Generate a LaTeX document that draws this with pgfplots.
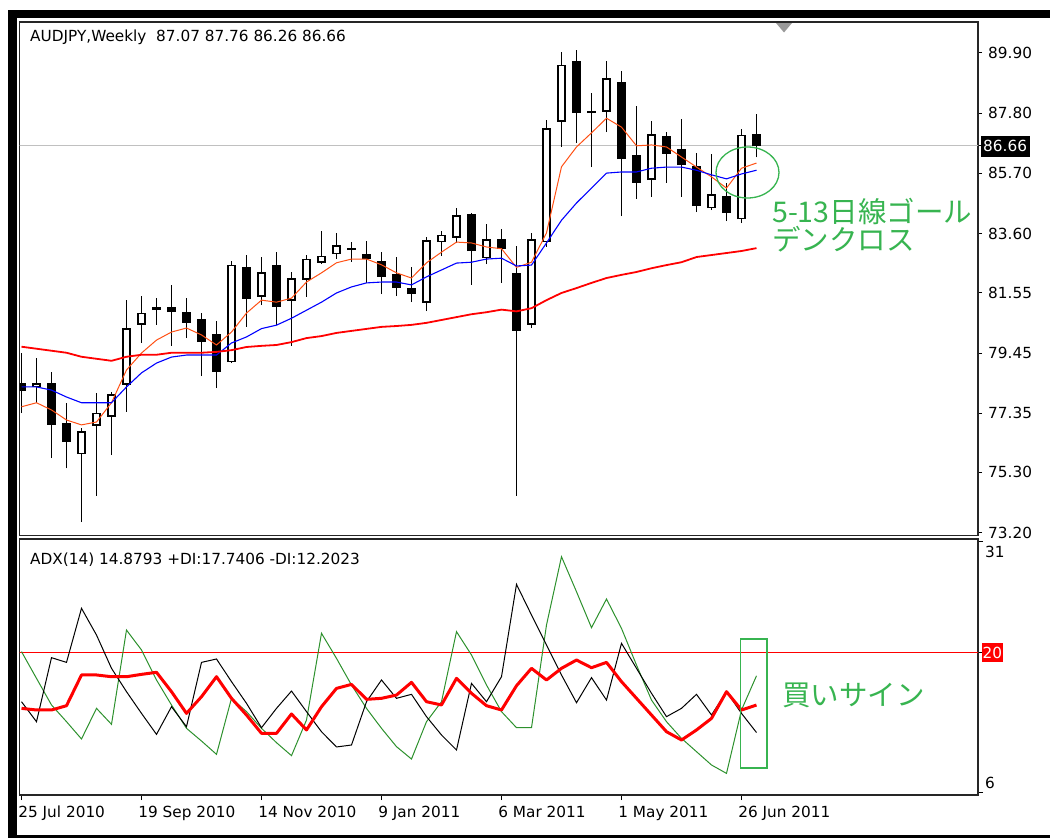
\documentclass[border=0pt]{standalone}
\usepackage{pgfplots}
\pgfplotsset{compat=1.18}
\usepackage{pgfplotstable}
\usepackage{fontspec}
\setmainfont{DejaVu Sans}
\newfontfamily\cjk{Noto Sans CJK JP}
\newcommand{\lab}{\fontsize{15.3}{18}\selectfont}
\definecolor{maorange}{RGB}{255,80,20}
\definecolor{pdicol}{RGB}{45,145,45}
\definecolor{anngreen}{RGB}{55,180,80}
\definecolor{pricegray}{RGB}{192,192,192}

\pgfplotstableread{
i o h l c
0 78.41 79.45 77.36 78.13
1 78.27 79.28 77.71 78.41
2 78.41 78.79 75.79 76.95
3 77.02 77.71 75.44 76.35
4 75.93 76.84 73.57 76.74
5 76.91 78.06 74.48 77.37
6 77.23 78.09 75.90 78.02
7 78.34 81.29 77.40 80.32
8 80.43 81.43 79.80 80.85
9 81.05 81.36 80.43 80.94
10 81.05 81.82 79.70 80.87
11 80.87 81.36 79.97 80.50
12 80.64 80.85 78.65 79.83
13 80.11 80.57 78.23 78.79
14 79.13 82.66 79.10 82.52
15 82.45 82.86 80.36 81.33
16 81.40 82.80 81.12 82.27
17 82.52 82.96 80.43 81.05
18 81.26 82.27 79.70 82.06
19 81.99 82.86 81.40 82.73
20 82.59 83.70 82.55 82.83
21 82.89 83.63 82.73 83.21
22 83.03 83.31 82.62 83.08
23 82.89 83.35 81.89 82.73
24 82.66 82.96 81.50 82.10
25 82.20 82.80 81.43 81.71
26 81.71 82.45 81.22 81.50
27 81.19 83.49 80.91 83.38
28 83.31 83.70 82.82 83.56
29 83.45 84.49 83.28 84.25
30 84.28 84.32 81.82 83.00
31 82.75 83.94 82.54 83.42
32 83.42 83.77 81.89 83.07
33 82.24 83.17 74.48 80.22
34 80.43 83.63 80.32 83.42
35 83.31 87.56 83.14 87.28
36 87.49 89.93 86.62 89.48
37 89.61 89.99 86.76 87.80
38 87.84 88.50 85.92 87.80
39 87.84 89.61 87.14 89.01
40 88.87 89.26 84.21 86.20
41 86.34 88.04 84.81 85.37
42 85.47 87.52 84.88 87.07
43 87.00 87.14 85.37 86.38
44 86.55 87.59 84.88 85.99
45 85.95 86.41 84.35 84.56
46 84.49 86.38 84.42 84.98
47 84.91 85.37 84.04 84.32
48 84.11 87.25 83.97 87.05
49 87.07 87.76 86.26 86.66
}\candles

\pgfplotstableread{
i or bl rd
0 77.58 78.27 79.67
1 77.72 78.27 79.60
2 77.47 78.16 79.53
3 77.12 77.92 79.46
4 76.95 77.72 79.32
5 77.05 77.72 79.25
6 77.72 77.72 79.18
7 78.86 78.27 79.32
8 79.45 78.76 79.39
9 79.90 79.10 79.39
10 80.18 79.31 79.46
11 80.32 79.38 79.46
12 80.08 79.38 79.46
13 79.73 79.38 79.49
14 80.18 79.80 79.55
15 80.84 80.01 79.66
16 81.29 80.30 79.70
17 81.22 80.42 79.73
18 81.36 80.66 79.83
19 81.92 80.94 79.97
20 82.24 81.22 80.04
21 82.59 81.54 80.15
22 82.72 81.75 80.22
23 82.72 81.89 80.29
24 82.52 81.92 80.36
25 82.24 81.92 80.39
26 82.06 81.82 80.43
27 82.59 82.10 80.50
28 82.96 82.34 80.60
29 83.31 82.58 80.70
30 83.28 82.61 80.80
31 83.14 82.72 80.87
32 83.08 82.75 80.96
33 82.43 82.48 80.90
34 82.61 82.51 81.01
35 83.63 83.28 81.29
36 85.93 84.07 81.54
37 86.62 84.67 81.71
38 87.11 85.19 81.89
39 87.62 85.71 82.06
40 87.31 85.75 82.17
41 86.66 85.75 82.27
42 86.69 85.88 82.40
43 86.62 85.92 82.51
44 86.27 85.92 82.61
45 85.92 85.81 82.79
46 85.58 85.65 82.86
47 85.19 85.51 82.93
48 85.88 85.68 83.00
49 86.06 85.81 83.10
}\mas

\pgfplotstableread{
i adx pdi mdi
0 14.56 20.10 15.21
1 14.40 17.49 13.26
2 14.40 14.89 19.51
3 14.82 13.26 19.05
4 17.82 11.57 24.33
5 17.82 14.56 21.72
6 17.65 13.00 18.47
7 17.65 22.21 16.19
8 17.88 20.26 14.07
9 18.08 17.33 12.02
10 16.19 14.89 14.72
11 14.07 12.61 12.77
12 15.70 11.37 19.05
13 17.65 10.07 19.38
14 15.54 15.54 17.17
15 13.91 14.24 15.05
16 12.12 12.61 12.67
17 12.12 11.21 14.56
18 14.01 9.94 16.25
19 12.45 13.42 14.24
20 14.72 21.89 12.28
21 16.51 19.44 10.79
22 16.90 16.84 10.98
23 15.44 14.56 15.21
24 15.54 12.61 17.33
25 15.86 10.82 15.54
26 17.10 9.61 15.93
27 15.21 13.26 13.75
28 14.89 15.21 11.96
29 17.49 22.05 10.49
30 16.03 19.77 17.00
31 14.82 16.84 15.21
32 14.40 14.24 17.65
33 16.77 12.67 26.67
34 18.47 12.67 23.68
35 17.33 22.70 20.75
36 18.47 29.37 17.82
37 19.28 25.95 15.11
38 18.53 22.44 17.56
39 19.05 25.24 15.37
40 17.17 22.37 20.91
41 15.54 18.79 18.47
42 13.91 15.37 16.03
43 12.28 13.26 13.75
44 11.47 11.63 14.56
45 12.45 10.33 15.93
46 13.58 9.03 13.91
47 16.19 8.21 16.19
48 14.40 14.40 14.07
49 14.88 17.74 12.20
}\adx

\pgfplotsset{
  candlebar/.style={draw=none, mark=none, no markers,
    error bars/.cd, y dir=plus, y explicit, error mark=none,
    error bar style={#1, line cap=butt}},
}

\begin{document}
\begin{tikzpicture}[x=1pt,y=1pt]
\path[use as bounding box] (0,0) rectangle (1050,-838);
% window frame
\fill[black] (8.3,-10) rectangle (16.7,-838);
\fill[black] (8.3,-10) rectangle (1050,-18.3);
\fill[black] (8.3,-834.5) rectangle (1050,-838);

% ---------------- price panel ----------------
\begin{axis}[
  at={(19.5pt,-535.5pt)}, anchor=south west, scale only axis,
  width=958.5pt, height=513.5pt,
  xmin=-0.1333, xmax=63.767, ymin=73.101, ymax=90.968,
  axis line style={line width=1.2pt, black!85},
  xtick=\empty,
  ytick={89.90,87.80,86.66,85.70,83.60,81.55,79.45,77.35,75.30,73.20},
  ytick pos=right, yticklabel=\empty,
  tick align=outside, major tick length=4pt,
  tick style={line width=1pt, black},
  clip=true,
]
\addplot[pricegray, line width=1pt] coordinates {(-1,86.66) (70,86.66)};
% wicks (low to high)
\addplot[candlebar={line width=1.7pt, draw=black}]
  table[x=i, y=l, y error expr=\thisrow{h}-\thisrow{l}] \candles;
% black bodies (close < open)
\addplot[restrict expr to domain={\thisrow{c}<\thisrow{o}}{1:1},
  candlebar={line width=8.6pt, draw=black}]
  table[x=i, y expr={min(\thisrow{o},\thisrow{c})},
        y error expr={max(abs(\thisrow{o}-\thisrow{c}),0.06)}] \candles;
% white bodies: outline
\addplot[restrict expr to domain={\thisrow{c}<\thisrow{o}}{0:0},
  candlebar={line width=8.6pt, draw=black}]
  table[x=i, y expr={min(\thisrow{o},\thisrow{c})},
        y error expr={max(abs(\thisrow{o}-\thisrow{c}),0.06)}] \candles;
% white bodies: inner fill
\addplot[restrict expr to domain={\thisrow{c}<\thisrow{o}}{0:0},
  candlebar={line width=5.4pt, draw=white}]
  table[x=i, y expr={min(\thisrow{o},\thisrow{c})+0.055},
        y error expr={max(abs(\thisrow{o}-\thisrow{c})-0.11,0)}] \candles;
\addplot[maorange, line width=1pt] table[x=i, y=or] \mas;
\addplot[blue, line width=1.1pt] table[x=i, y=bl] \mas;
\addplot[red, line width=1.8pt] table[x=i, y=rd] \mas;
\end{axis}

% ---------------- ADX panel ----------------
\begin{axis}[
  at={(19.5pt,-795pt)}, anchor=south west, scale only axis,
  width=958.5pt, height=256pt,
  xmin=-0.1333, xmax=63.767, ymin=6.098, ymax=31.098,
  axis line style={line width=1.2pt, black!85},
  xtick={0,8,16,24,32,40,48}, xtick pos=bottom, xticklabel=\empty,
  ytick={30.9,20,6.3}, ytick pos=right, yticklabel=\empty,
  tick align=outside, major tick length=5pt,
  tick style={line width=1pt, black},
  clip=true,
]
\addplot[red, line width=1.2pt] coordinates {(-1,20) (70,20)};
\addplot[pdicol, line width=1pt] table[x=i, y=pdi] \adx;
\addplot[black, line width=1pt] table[x=i, y=mdi] \adx;
\addplot[red, line width=3pt, line join=round] table[x=i, y=adx] \adx;
\end{axis}

% ---------------- texts and labels ----------------
\node[anchor=base west, inner sep=0, font=\lab] at (30,-41.5) {AUDJPY,Weekly\ \ 87.07 87.76 86.26 86.66};
\node[anchor=base west, inner sep=0, font=\lab] at (30,-564.5) {ADX(14) 14.8793 +DI:17.7406 -DI:12.2023};
\foreach \p/\y in {89.90/52.7, 87.80/113.05, 85.70/173.4, 83.60/233.8, 81.55/292.7, 79.45/353.0, 77.35/413.4, 75.30/472.3, 73.20/532.7}
  \node[anchor=west, inner sep=0, font=\lab] at (988,-\y) {\p};
\node[fill=black, text=white, anchor=west, inner xsep=2.5pt, inner ysep=0pt, minimum height=21pt, font=\lab] at (980.5,-146) {86.66};
\node[anchor=west, inner sep=0, font=\lab] at (985,-552) {31};
\node[fill=red, text=white, anchor=west, inner xsep=1pt, inner ysep=0pt, minimum height=19pt, font=\lab] at (981.5,-652.6) {20};
\node[anchor=west, inner sep=0, font=\lab] at (985,-783) {6};
\foreach \i/\t in {0/25 Jul 2010, 8/19 Sep 2010, 16/14 Nov 2010, 24/9 Jan 2011, 32/6 Mar 2011, 40/1 May 2011, 48/26 Jun 2011}
  \node[anchor=base west, inner sep=0, font=\lab] at ({21.5+15*\i-3.3},-817.5) {\t};

% shift marker
\fill[black!40] (776,-23) -- (792,-23) -- (784,-32.5) -- cycle;

% annotations
\draw[anngreen, line width=1.3pt] (747.5,-172.5) ellipse [x radius=31.5, y radius=25.5];
\node[anchor=west, inner sep=0, text=anngreen, font=\cjk\fontsize{28.5}{30}\selectfont] at (772,-211.5) {5-13日線ゴール};
\node[anchor=west, inner sep=0, text=anngreen, font=\cjk\fontsize{28.5}{30}\selectfont] at (772,-239) {デンクロス};
\draw[anngreen, line width=1.5pt] (740.5,-639) rectangle (767,-768);
\node[anchor=west, inner sep=0, text=anngreen, font=\cjk\fontsize{28.5}{30}\selectfont] at (782,-695) {買いサイン};
\end{tikzpicture}
\end{document}
